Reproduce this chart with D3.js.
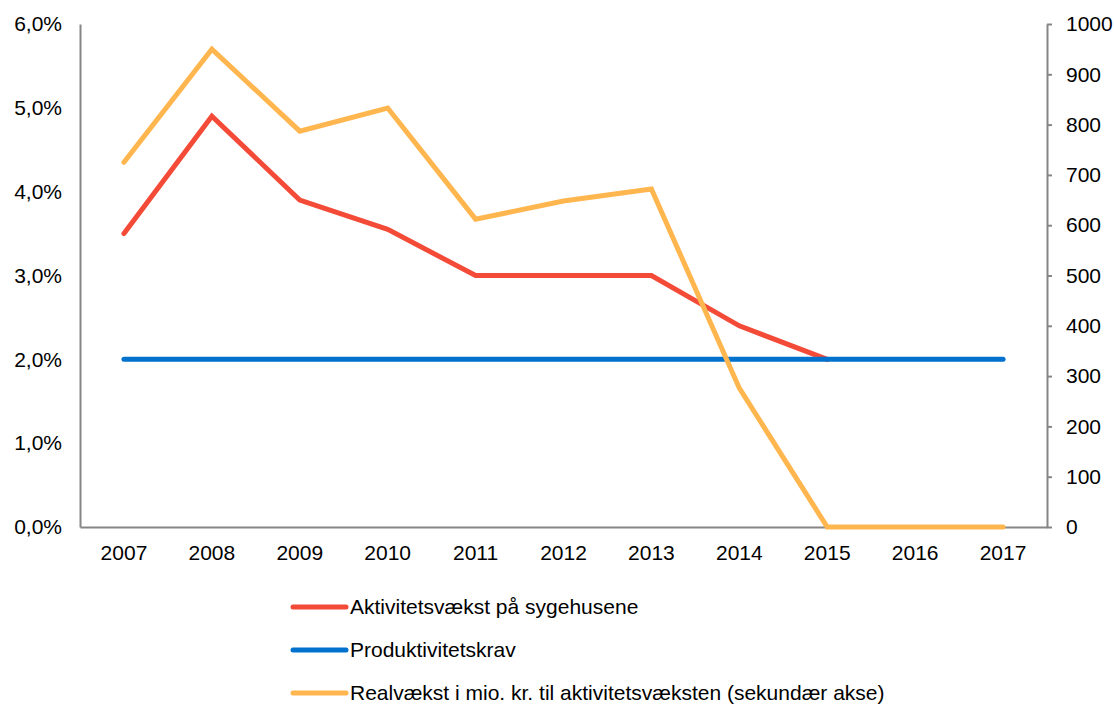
<!DOCTYPE html>
<html>
<head>
<meta charset="utf-8">
<script src="https://cdn.jsdelivr.net/npm/d3@7"></script>
<style>
  body { margin: 0; background: #fff; }
  svg text { font-family: "Liberation Sans", Arial, sans-serif; fill: #000; }
</style>
</head>
<body>
<div id="chart"></div>
<script>
const years = ["2007", "2008", "2009", "2010", "2011", "2012", "2013", "2014", "2015", "2016", "2017"];
// left axis, percent
const aktivitet = [3.5, 4.9, 3.9, 3.55, 3.0, 3.0, 3.0, 2.4, 2.0, null, null];
const produktivitet = [2.0, 2.0, 2.0, 2.0, 2.0, 2.0, 2.0, 2.0, 2.0, 2.0, 2.0];
// right axis, mio. kr.
const realvaekst = [725, 950, 787, 833, 612, 648, 672, 276, 0, 0, 0];

const leftTicks = [0, 1, 2, 3, 4, 5, 6];
const rightTicks = [0, 100, 200, 300, 400, 500, 600, 700, 800, 900, 1000];

const series = [
    { name: "Aktivitetsvækst på sygehusene", values: aktivitet, axis: "left", color: "#F44B39" },
    { name: "Produktivitetskrav", values: produktivitet, axis: "left", color: "#0071CD" },
    { name: "Realvækst i mio. kr. til aktivitetsvæksten (sekundær akse)", values: realvaekst, axis: "right", color: "#FFB64F" }
];

const width = 1114, height = 704;
const margin = { top: 24, right: 67, bottom: 177, left: 80 };
const plotW = width - margin.left - margin.right;
const plotH = height - margin.top - margin.bottom;
const fontSize = "21px";

const svg = d3.select("#chart").append("svg")
    .attr("width", width)
    .attr("height", height);

const g = svg.append("g")
    .attr("transform", `translate(${margin.left},${margin.top})`);

const x = d3.scaleBand().domain(years).range([0, plotW]);
const yLeft = d3.scaleLinear().domain([0, 6]).range([plotH, 0]);
const yRight = d3.scaleLinear().domain([0, 1000]).range([plotH, 0]);

const axisColor = "#868686";
const fmtPct = v => d3.format(".1f")(v).replace(".", ",") + "%";

// left axis - line only
const leftAxis = g.append("g")
    .call(d3.axisLeft(yLeft).tickValues(leftTicks).tickSize(0).tickPadding(18).tickFormat(fmtPct));
// right axis - outer ticks
const rightAxis = g.append("g")
    .attr("transform", `translate(${plotW},0)`)
    .call(d3.axisRight(yRight).tickValues(rightTicks).tickSize(5).tickPadding(14)
        .tickSizeOuter(0).tickFormat(d3.format("d")));
// x axis
const xAxis = g.append("g")
    .attr("transform", `translate(0,${plotH})`)
    .call(d3.axisBottom(x).tickSize(0).tickPadding(18));

[leftAxis, rightAxis, xAxis].forEach(a => {
    a.select(".domain").attr("stroke", axisColor).attr("stroke-width", 2);
    a.selectAll(".tick line").attr("stroke", axisColor).attr("stroke-width", 2);
    a.selectAll("text").style("font-size", fontSize).attr("fill", "#000");
});

// lines
series.forEach(s => {
    const yScale = s.axis === "left" ? yLeft : yRight;
    const line = d3.line()
        .defined(d => d != null)
        .x((d, i) => x(years[i]) + x.bandwidth() / 2)
        .y(d => yScale(d));
    g.append("path")
        .datum(s.values)
        .attr("fill", "none")
        .attr("stroke", s.color)
        .attr("stroke-width", 5)
        .attr("stroke-linecap", "round")
        .attr("stroke-linejoin", "miter")
        .attr("d", line);
});

// legend
const legend = svg.append("g").attr("transform", "translate(293,607)");
series.forEach((s, i) => {
    const row = legend.append("g").attr("transform", `translate(0,${i * 43})`);
    row.append("line")
        .attr("x1", 0).attr("x2", 53)
        .attr("stroke", s.color)
        .attr("stroke-width", 5)
        .attr("stroke-linecap", "round");
    row.append("text")
        .attr("x", 57)
        .attr("dy", "0.35em")
        .style("font-size", fontSize)
        .text(s.name);
});
</script>
</body>
</html>
